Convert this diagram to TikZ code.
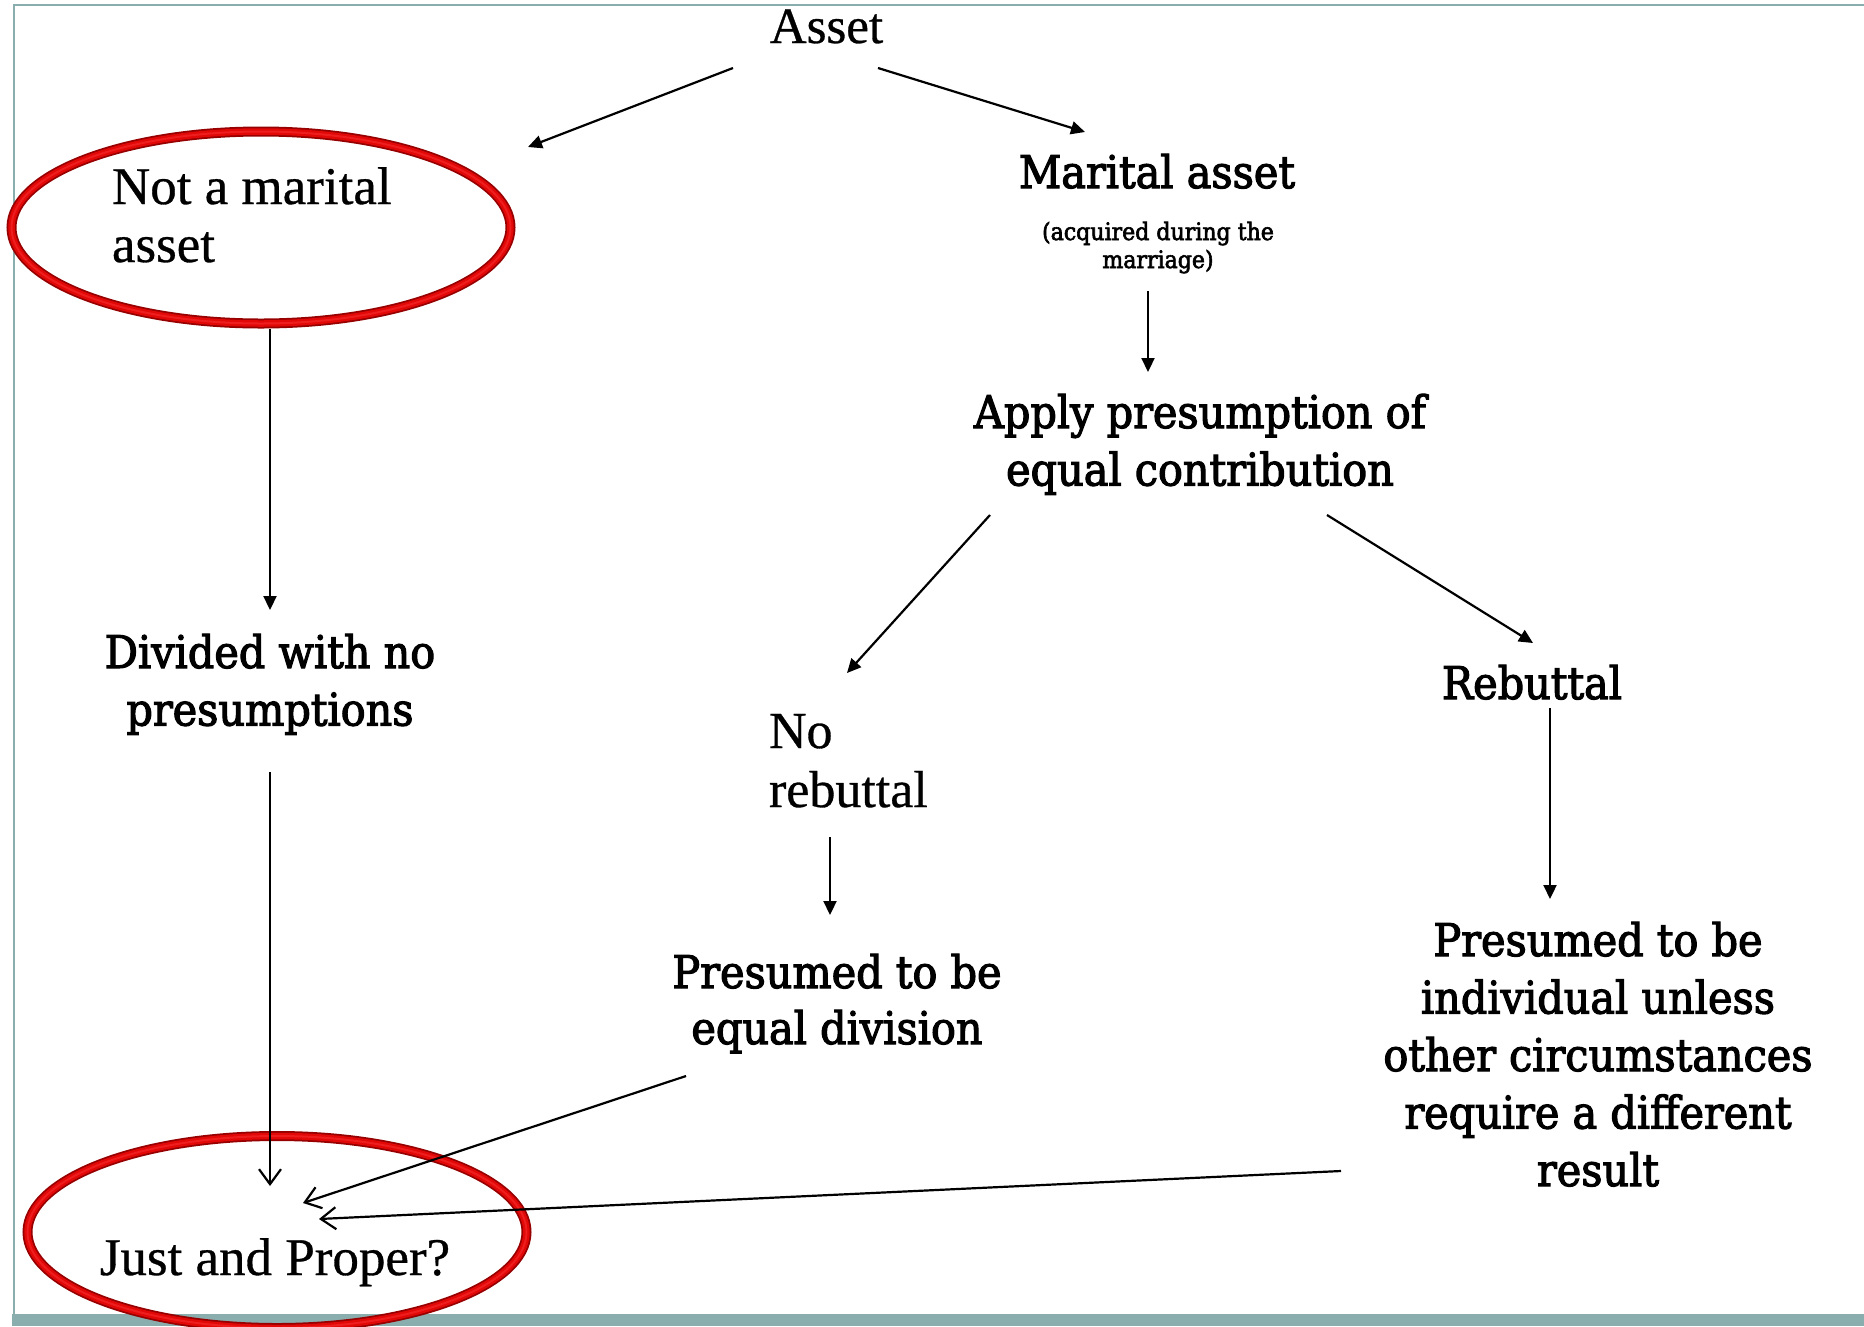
\documentclass[tikz,border=0pt]{standalone}
\usepackage{fontspec}
\setmainfont{DejaVu Serif}[FakeStretch=0.92,FakeBold=2.5]
\newfontfamily\rmtimes{Liberation Serif}[FakeBold=0.6]
\usetikzlibrary{arrows.meta,shapes.geometric}
\definecolor{slate}{RGB}{138,173,173}
\definecolor{ringdark}{RGB}{150,0,0}
\definecolor{ringred}{RGB}{226,8,8}
\definecolor{ringlight}{RGB}{238,30,30}
\tikzset{
  lbl/.style={inner sep=0pt, outer sep=0pt, font=\fontsize{45}{57.5}\selectfont, align=center},
  tlbl/.style={inner sep=0pt, outer sep=0pt, font=\rmtimes\fontsize{53}{58}\selectfont},
  ring/.style={ellipse, minimum width=499pt, minimum height=192pt, inner sep=0pt, outer sep=0pt,
    preaction={draw=ringdark, line width=10pt}, draw=ringred, line width=6.5pt,
    postaction={draw=ringlight, line width=2pt}},
  solid arrow/.style={line width=2.2pt, -{Triangle[length=14pt,width=13pt]}},
  open arrow/.style={line width=2.2pt, -{Straight Barb[length=15pt,width=22pt]}},
  frame/.style={draw=slate, line width=2.5pt},
}
\begin{document}
\begin{tikzpicture}[x=1pt,y=-1pt]
\path[use as bounding box] (0,0) rectangle (1864,1326);
\clip (0,0) rectangle (1864,1326);

% slide frame and footer band
\draw[frame] (14,1314) -- (14,5) -- (1864,5);
\fill[slate] (12,1314) rectangle (1864,1326);

% highlighted outcomes
\node[ring] (notmaritalring) at (261,227.5) {};
\node[ring] (justring) at (277,1232) {};

% text (multi-line nodes are anchored at the baseline of their last line)
\node[tlbl, font=\rmtimes\fontsize{51}{58}\selectfont, anchor=base] (asset) at (826.5,43) {Asset};
\node[tlbl, align=left, anchor=base west] (notmarital) at (112,262) {Not a marital\\asset};
\node[lbl, anchor=base] (marital) at (1157,188) {Marital asset};
\node[lbl, font=\fontsize{24}{28}\selectfont, anchor=base] (maritalnote) at (1158,268) {(acquired during the\\marriage)};
\node[lbl, anchor=base] (apply) at (1200,485.5) {Apply presumption of\\equal contribution};
\node[lbl, anchor=base] (divided) at (270,725.5) {Divided with no\\presumptions};
\node[tlbl, align=left, font=\rmtimes\fontsize{52}{59}\selectfont, anchor=base west] (norebuttal) at (769,807) {No\\rebuttal};
\node[lbl, anchor=base] (rebuttal) at (1532,699) {Rebuttal};
\node[lbl, font=\fontsize{45}{56}\selectfont, anchor=base] (equaldiv) at (837,1044) {Presumed to be\\equal division};
\node[lbl, anchor=base] (individual) at (1598,1186) {Presumed to be\\individual unless\\other circumstances\\require a different\\result};
\node[tlbl, anchor=base] (just) at (275,1275) {Just and Proper?};

% connectors
\draw[solid arrow] ([shift={(-93.5,25)}]asset.base) -- ([shift={(267,-80.5)}]notmaritalring.center);
\draw[solid arrow] ([shift={(51.5,25)}]asset.base) -- ([shift={(-72,-56)}]marital.base);
\draw[solid arrow] ([shift={(-10,23)}]maritalnote.base) -- ([shift={(-52,-113.5)}]apply.base);
\draw[solid arrow] ([shift={(-210,29.5)}]apply.base) -- ([shift={(78,-134)}]norebuttal.base west);
\draw[solid arrow] ([shift={(127,29.5)}]apply.base) -- ([shift={(1,-56)}]rebuttal.base);
\draw[solid arrow] ([shift={(18,9)}]rebuttal.base) -- ([shift={(-48,-287)}]individual.base);
\draw[solid arrow] ([shift={(61,30)}]norebuttal.base west) -- ([shift={(-7,-129)}]equaldiv.base);
\draw[solid arrow] ([shift={(9,101.5)}]notmaritalring.center) -- ([shift={(0,-115.5)}]divided.base);
\draw[open arrow] ([shift={(0,46.5)}]divided.base) -- ([shift={(-7,-46)}]justring.center);
\draw[open arrow] ([shift={(-151,32)}]equaldiv.base) -- ([shift={(26,-29)}]justring.center);
\draw[open arrow] ([shift={(-257,-15)}]individual.base) -- ([shift={(42,-13)}]justring.center);
\end{tikzpicture}
\end{document}
